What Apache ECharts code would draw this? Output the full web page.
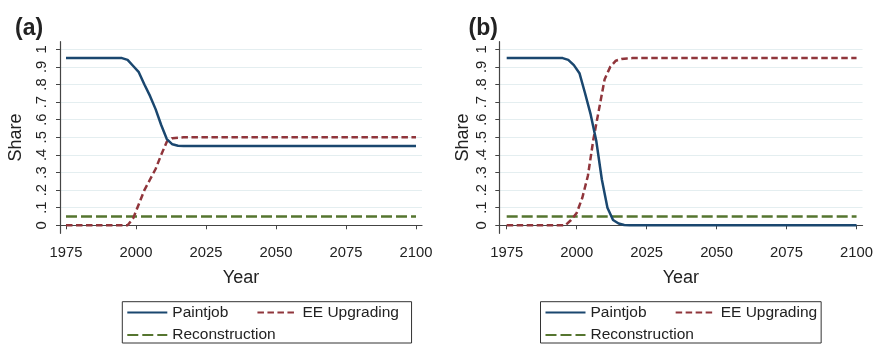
<!DOCTYPE html>
<html>
<head>
<meta charset="utf-8">
<script src="https://cdn.jsdelivr.net/npm/echarts@6/dist/echarts.min.js"></script>
<style>
html, body { margin: 0; padding: 0; background: #fff; }
#chart { width: 876px; height: 344px; }
</style>
</head>
<body>
<div id="chart"></div>
<script>
var yearTicks = [1975, 2000, 2025, 2050, 2075, 2100];
var shareTicks = [0, 0.1, 0.2, 0.3, 0.4, 0.5, 0.6, 0.7, 0.8, 0.9, 1];
var seriesNames = ['Paintjob', 'EE Upgrading', 'Reconstruction'];

// panel (a)
var paintjobYearsA = [1975, 1995, 1997, 1999, 2001, 2003, 2005, 2007, 2009, 2011, 2013, 2015, 2017, 2100];
var paintjobA = [0.95, 0.95, 0.94, 0.905, 0.87, 0.80, 0.735, 0.66, 0.57, 0.49, 0.46, 0.452, 0.45, 0.45];
var upgradeYearsA = [1975, 1997, 1999, 2001, 2003, 2005, 2007, 2009, 2011, 2013, 2015, 2017, 2100];
var upgradeA = [0, 0, 0.04, 0.12, 0.20, 0.26, 0.32, 0.40, 0.475, 0.495, 0.498, 0.5, 0.5];
var rebuildYearsA = [1975, 2100];
var rebuildA = [0.05, 0.05];

// panel (b)
var paintjobYearsB = [1975, 1995, 1997, 1999, 2001, 2003, 2005, 2007, 2009, 2011, 2013, 2015, 2017, 2019, 2100];
var paintjobB = [0.95, 0.95, 0.94, 0.91, 0.864, 0.75, 0.63, 0.48, 0.26, 0.10, 0.03, 0.01, 0.002, 0, 0];
var upgradeYearsB = [1975, 1996, 1998, 2000, 2002, 2004, 2006, 2008, 2010, 2012, 2014, 2016, 2018, 2020, 2100];
var upgradeB = [0, 0, 0.03, 0.07, 0.155, 0.28, 0.49, 0.66, 0.83, 0.90, 0.935, 0.945, 0.948, 0.95, 0.95];
var rebuildYearsB = [1975, 2100];
var rebuildB = [0.05, 0.05];

var FONT = "'Liberation Sans', Arial, sans-serif";
var colors = ['#1a476f', '#90353b', '#55752f'];
var dashes = ['solid', [6.5, 3.5], [11, 4]];
var NB = '\u00a0';

function pairs(xs, ys) {
    return xs.map(function (x, i) { return [x, ys[i]]; });
}

function shareLabel(v) {
    var r = Math.round(v * 10) / 10;
    if (r === 0) return '0';
    if (r === 1) return '1';
    return '.' + Math.round(r * 10);
}

function makeXAxis(idx, min, max) {
    return {
        type: 'value', gridIndex: idx, min: min, max: max,
        name: 'Year', nameLocation: 'middle', nameGap: 36,
        nameTextStyle: { fontFamily: FONT, fontSize: 18, color: '#222' },
        axisLine: { lineStyle: { color: '#444', width: 1.2 } },
        axisTick: { customValues: yearTicks, length: 4, lineStyle: { color: '#444' } },
        axisLabel: { customValues: yearTicks, margin: 12, fontFamily: FONT, fontSize: 14.8, color: '#222',
            formatter: function (v) { return String(v); } },
        splitLine: { show: false }
    };
}

function makeYAxis(idx, labelMargin, nameGap) {
    return {
        type: 'value', gridIndex: idx, min: -0.0455, max: 1.043,
        name: 'Share', nameLocation: 'middle', nameGap: nameGap,
        nameTextStyle: { fontFamily: FONT, fontSize: 18, color: '#222' },
        axisLine: { show: true, lineStyle: { color: '#444', width: 1.2 } },
        axisTick: { show: true, customValues: shareTicks, length: 4, lineStyle: { color: '#444' } },
        axisLabel: { customValues: shareTicks, rotate: 90, margin: labelMargin, fontFamily: FONT,
            fontSize: 14.8, color: '#222', formatter: shareLabel },
        splitLine: { show: true, lineStyle: { color: '#e4eef0', width: 1 } }
    };
}

function makeSeries(name, k, idx, xs, ys) {
    return {
        name: name, type: 'line', xAxisIndex: idx, yAxisIndex: idx,
        data: pairs(xs, ys), symbol: 'none', smooth: false,
        lineStyle: { color: colors[k], width: 2.5, type: dashes[k] },
        itemStyle: { color: colors[k] }
    };
}

// trailing no-break spaces push the second legend column and the box edge
// over to where the reference has them
function makeLegend(left, tails) {
    return {
        left: left, top: 301.7, orient: 'horizontal', width: 320,
        padding: [2.7, 4, 0, 4], itemGap: 6.6, itemWidth: 40, itemHeight: 14,
        borderColor: '#333', borderWidth: 1, borderRadius: 0,
        selectedMode: false,
        itemStyle: { opacity: 0 },
        textStyle: { fontFamily: FONT, fontSize: 15.5, color: '#222' },
        formatter: function (name) {
            return name + tails[seriesNames.indexOf(name)];
        },
        data: seriesNames
    };
}

var chart = echarts.init(document.getElementById('chart'), null, { renderer: 'canvas' });
chart.setOption({
    animation: false,
    backgroundColor: '#fff',
    title: [
        { text: '(a)', left: 10, top: 12, textStyle: { fontFamily: FONT, fontSize: 23, fontWeight: 'bold', color: '#222' } },
        { text: '(b)', left: 463.5, top: 12, textStyle: { fontFamily: FONT, fontSize: 23, fontWeight: 'bold', color: '#222' } }
    ],
    grid: [
        { left: 60, top: 41.7, width: 362, height: 191.6 },
        { left: 499.3, top: 41.7, width: 363.4, height: 191.6 }
    ],
    xAxis: [makeXAxis(0, 1972.86, 2102.14), makeXAxis(1, 1972.36, 2102.14)],
    yAxis: [makeYAxis(0, 11, 35), makeYAxis(1, 9.5, 27)],
    legend: [
        makeLegend(122.3, [NB + NB + NB + NB + NB, NB + NB, '']),
        makeLegend(540.5, [NB + NB + NB + NB + NB, '', ''])
    ],
    series: [
        makeSeries(seriesNames[2], 2, 0, rebuildYearsA, rebuildA),
        makeSeries(seriesNames[1], 1, 0, upgradeYearsA, upgradeA),
        makeSeries(seriesNames[0], 0, 0, paintjobYearsA, paintjobA),
        makeSeries(seriesNames[2], 2, 1, rebuildYearsB, rebuildB),
        makeSeries(seriesNames[1], 1, 1, upgradeYearsB, upgradeB),
        makeSeries(seriesNames[0], 0, 1, paintjobYearsB, paintjobB)
    ]
});
</script>
</body>
</html>
